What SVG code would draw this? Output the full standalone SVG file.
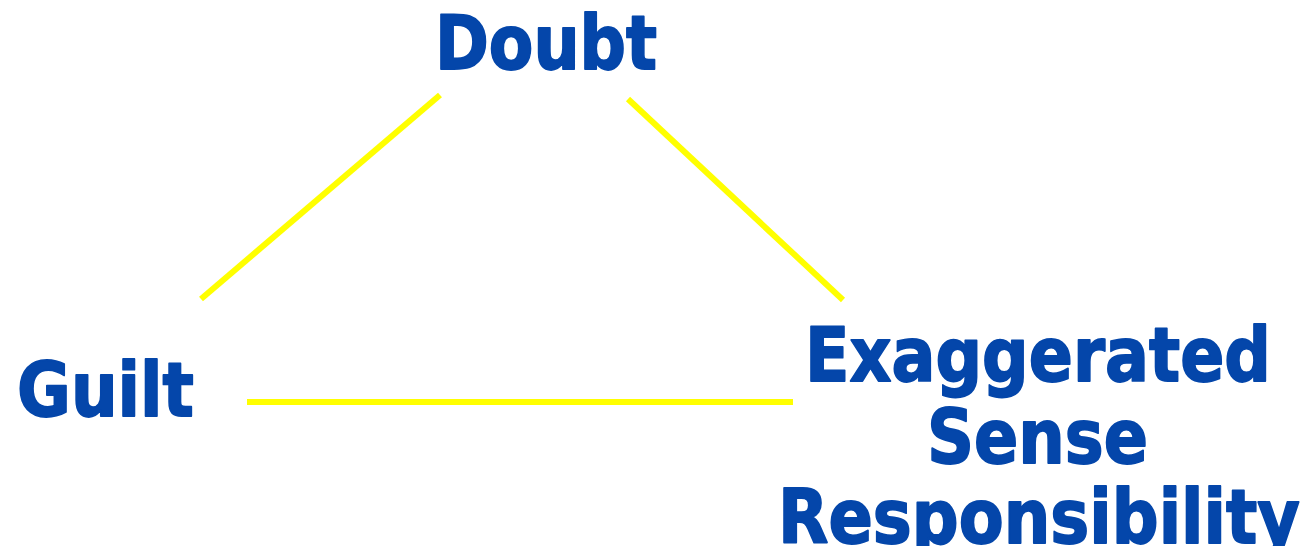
<svg xmlns="http://www.w3.org/2000/svg" width="1311" height="546" viewBox="0 0 1311 546">
<style>
.lbl{font-family:"DejaVu Sans","Liberation Sans",sans-serif;font-weight:bold;font-size:75px;fill:#0446AA;stroke:#0446AA;stroke-width:1.8;stroke-linejoin:round;}
.conn{stroke:#FFFF00;stroke-width:6;fill:none;}
</style>
<rect width="1311" height="546" fill="#FFFFFF"/>
<g id="connectors">
<line class="conn" x1="440" y1="95" x2="201" y2="299"/>
<line class="conn" x1="628" y1="99" x2="843" y2="300"/>
<line class="conn" x1="247" y1="402" x2="793" y2="402"/>
</g>
<g id="doubt">
<text class="lbl" x="435" y="69" textLength="222" lengthAdjust="spacingAndGlyphs">Doubt</text>
</g>
<g id="guilt">
<text class="lbl" x="17" y="416" textLength="177" lengthAdjust="spacingAndGlyphs">Guilt</text>
</g>
<g id="responsibility">
<text class="lbl" x="805" y="381" textLength="466" lengthAdjust="spacingAndGlyphs">Exaggerated</text>
<text class="lbl" x="927" y="463" textLength="221" lengthAdjust="spacingAndGlyphs">Sense</text>
<text class="lbl" x="778" y="543" textLength="522" lengthAdjust="spacingAndGlyphs">Responsibility</text>
</g>
</svg>
